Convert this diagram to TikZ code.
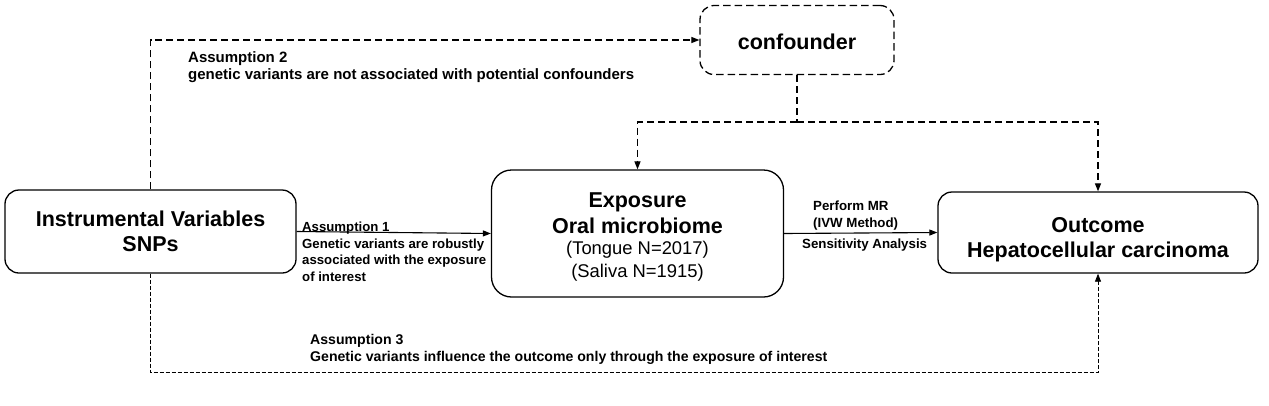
\documentclass[tikz,border=0pt]{standalone}
\usepackage{fontspec}
\setmainfont{Liberation Sans}
\usetikzlibrary{arrows.meta}
\begin{document}
\begin{tikzpicture}[x=1pt,y=-1pt,
  box/.style={draw, line width=1.3pt, rounded corners=14pt, align=center, inner sep=0pt,
    font=\fontsize{21.5}{25}\selectfont\bfseries},
  dbox/.style={box, dash pattern=on 7.5pt off 4pt},
  boxtext/.style={inner sep=0pt, align=center, font=\fontsize{21.5}{25}\selectfont\bfseries},
  note/.style={inner sep=0pt, align=left, font=\fontsize{13.2}{16.5}\selectfont\bfseries},
  solidarrow/.style={line width=1.1pt, -{Triangle[length=8pt,width=6pt]}},
  dasharrow/.style={line width=1.2pt, dash pattern=on 7pt off 4pt, -{Triangle[length=8pt,width=6pt]}},
  thinarrow/.style={line width=0.8pt, dash pattern=on 4pt off 2pt, -{Triangle[length=8pt,width=6pt]}},
  dashline/.style={line width=1.2pt, dash pattern=on 7pt off 4pt}
]
\useasboundingbox[fill=white] (0,0) rectangle (1269,405);

% boxes
\node[box, minimum width=291pt, minimum height=83pt] (iv) at (150.5,231.5)
  {Instrumental Variables\\SNPs};
\node[box, rounded corners=20pt, minimum width=292pt, minimum height=127pt] (exp) at (637.5,233.5) {};
\node[boxtext, anchor=north] (exptext) at (637.5,193)
  {Exposure\\[1pt]
   Oral microbiome\\[-4pt]
   {\mdseries\fontsize{18.4}{22.5}\selectfont (Tongue N=2017)}\\[-2pt]
   {\mdseries\fontsize{18.4}{22.5}\selectfont (Saliva N=1915)}};
\node[box, minimum width=320pt, minimum height=81pt] (out) at (1098,232.5) {};
\node[boxtext, anchor=north] (outtext) at (1098,217.5)
  {Outcome\\Hepatocellular carcinoma};
\node[dbox, minimum width=194pt, minimum height=69pt] (conf) at (797,40) {};
\node[boxtext] (conftext) at (797,41.5) {confounder};

% assumption 2
\draw[dasharrow] (iv.north) |- (conf.west);
\node[note, anchor=north west, font=\fontsize{15}{17}\selectfont\bfseries] (a2) at (188,51)
  {Assumption 2\\genetic variants are not associated with potential confounders};

% confounder branches
\coordinate (j) at (797,122);
\draw[dashline] (conf.south) -- (j);
\draw[dasharrow] (j) -| (exp.north);
\draw[dasharrow] (j) -| (out.north);

% assumption 1
\draw[solidarrow] (iv.east) -- (exp.west);
\node[note, anchor=north west] (a1) at (302,222)
  {Assumption 1\\Genetic variants are robustly\\associated with the exposure\\of interest};

% MR
\draw[solidarrow] (exp.east) -- (out.west);
\node[note, anchor=north west, font=\fontsize{13.3}{17}\selectfont\bfseries] (mr) at (813,201)
  {Perform MR\\(IVW Method)};
\node[note, anchor=north west, font=\fontsize{13.3}{17}\selectfont\bfseries] (sa) at (802,239) {Sensitivity Analysis};

% assumption 3
\draw[thinarrow] (iv.south) -- ++(0,99) -| (out.south);
\node[note, anchor=north west, font=\fontsize{14.1}{17.5}\selectfont\bfseries] (a3) at (310,334)
  {Assumption 3\\Genetic variants influence the outcome only through the exposure of interest};
\end{tikzpicture}
\end{document}
